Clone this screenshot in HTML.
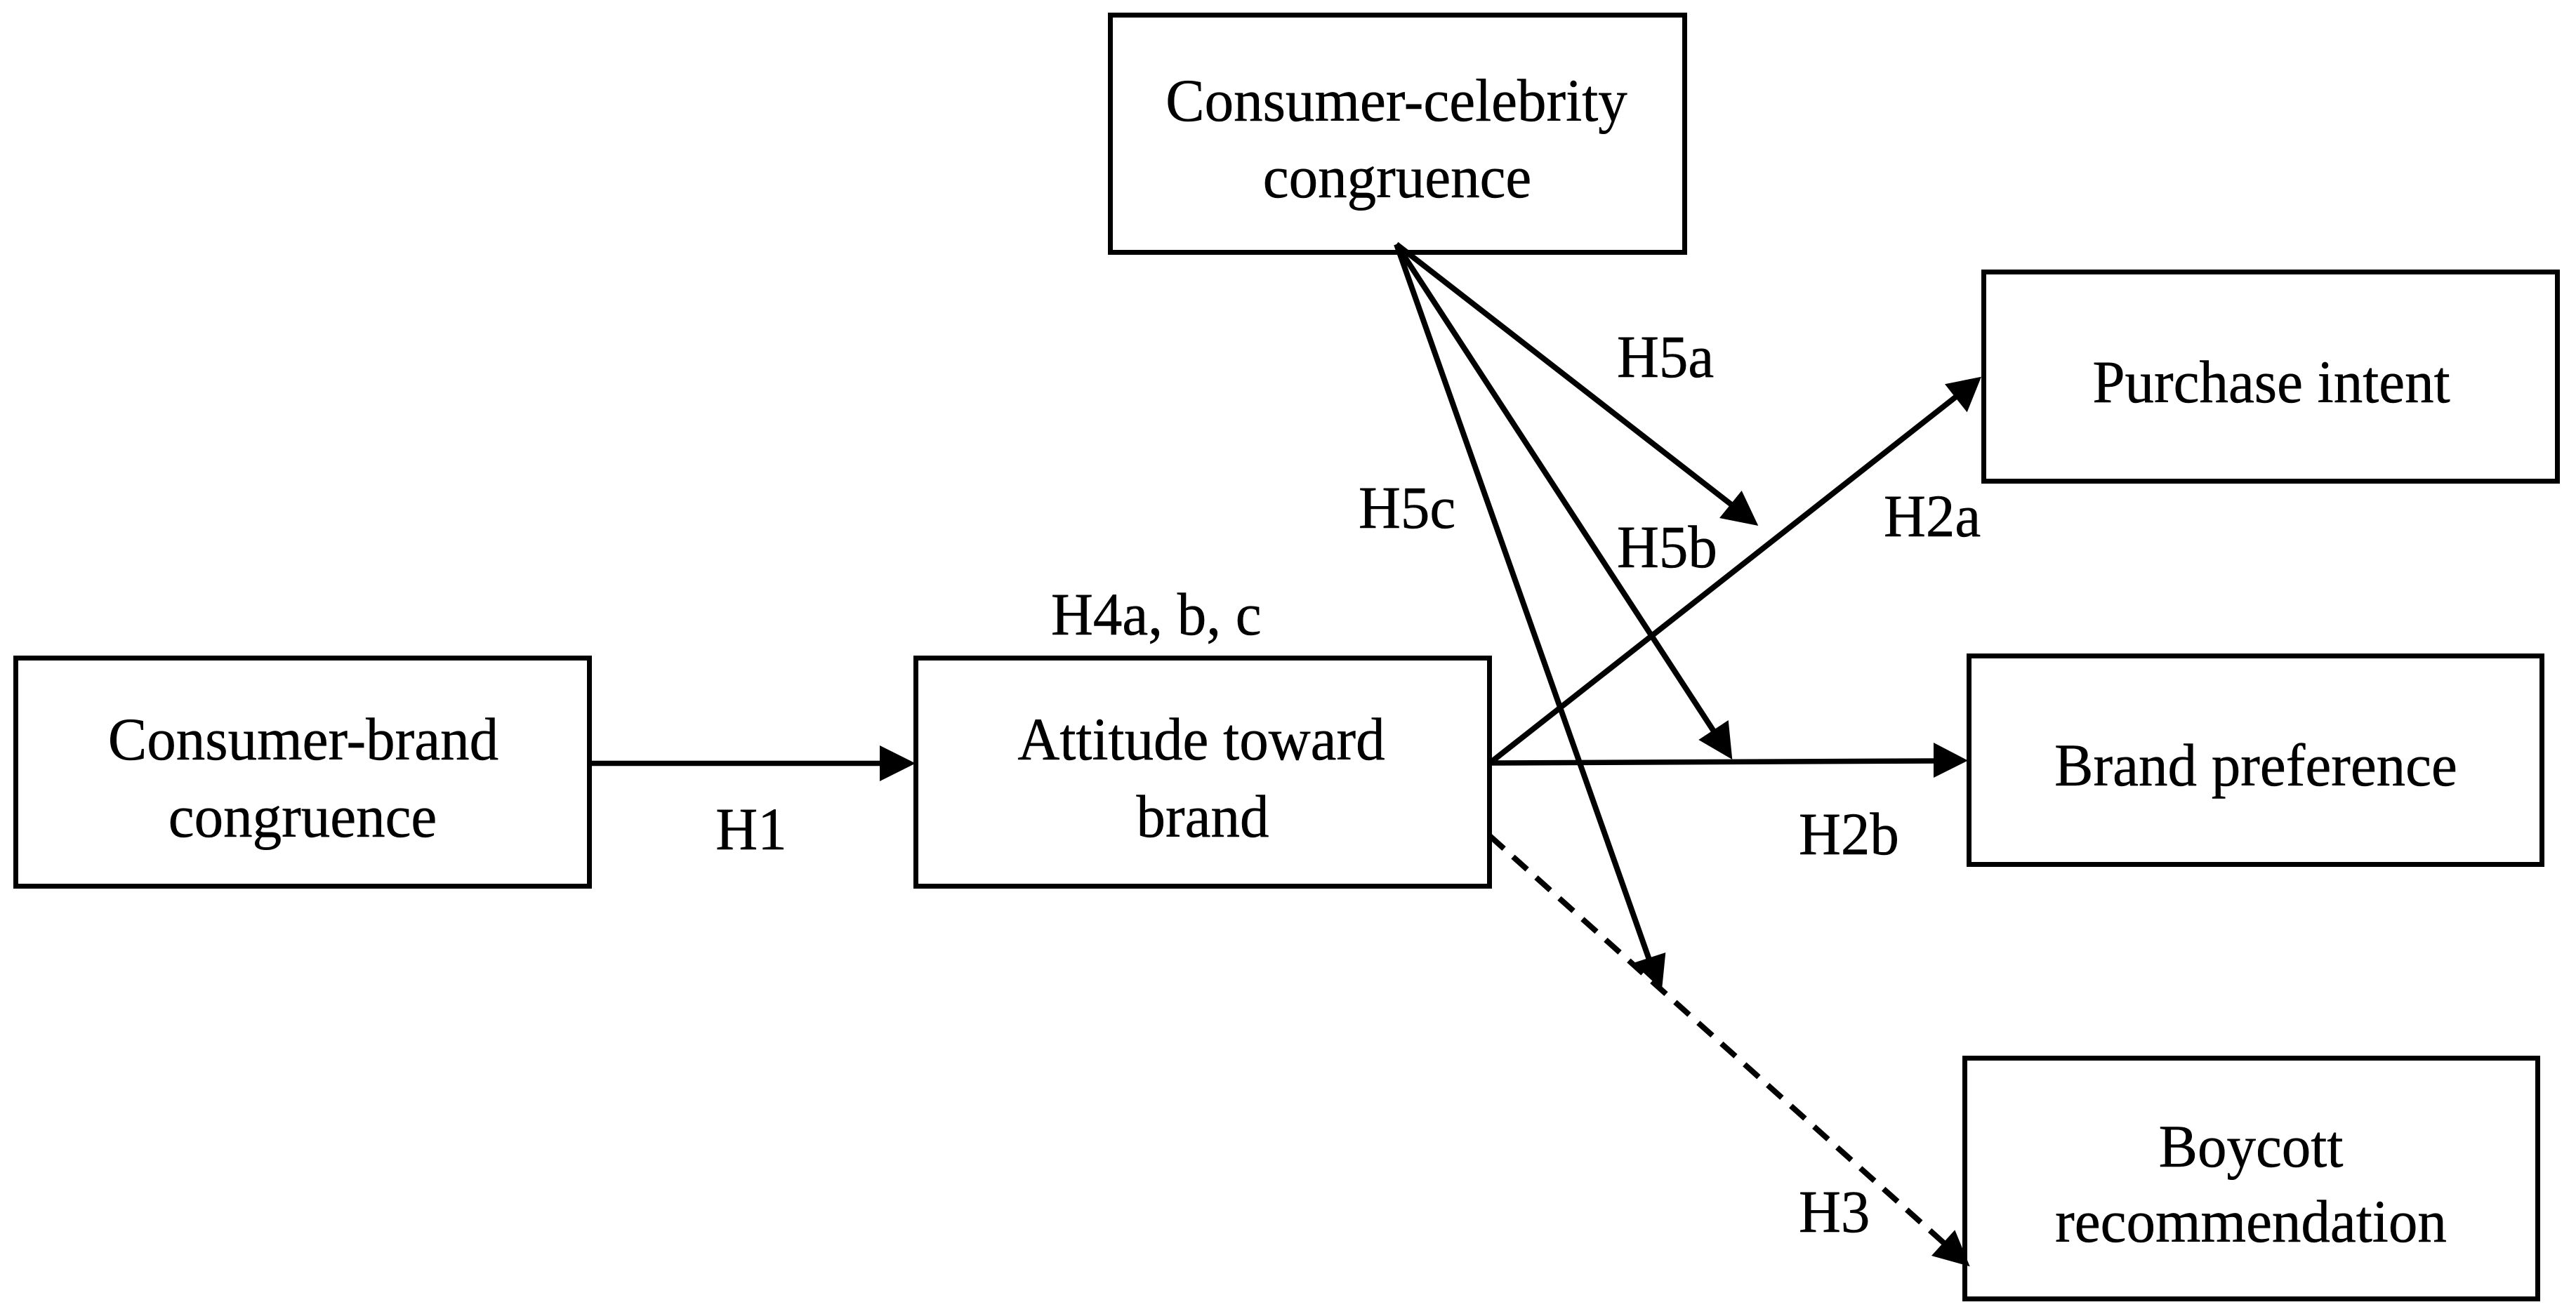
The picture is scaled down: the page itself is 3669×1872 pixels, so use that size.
<!DOCTYPE html>
<html><head><meta charset="utf-8"><style>
html,body{margin:0;padding:0;background:#fff;width:3669px;height:1872px;overflow:hidden}
svg{display:block}
text{font-family:"Liberation Serif",serif;font-size:83px;fill:#000;stroke:#000;stroke-width:.5}
.m{text-anchor:middle}
</style></head><body>
<svg width="3669" height="1872" viewBox="0 0 3669 1872" xmlns="http://www.w3.org/2000/svg">
<rect width="3669" height="1872" fill="#fff"/>
<g fill="#000" fill-rule="evenodd">
<path d="M19 934H843V1266H19ZM26 941V1259H836V941Z"/>
<path d="M1301 934H2125V1266H1301ZM1308 941V1259H2118V941Z"/>
<path d="M1578 18H2403V363H1578ZM1585 25V356H2396V25Z"/>
<path d="M2822 384H3646V689H2822ZM2829 391V682H3639V391Z"/>
<path d="M2801 931H3624V1235H2801ZM2808 938V1228H3617V938Z"/>
<path d="M2795 1504H3618V1854H2795ZM2802 1511V1847H3611V1511Z"/>
</g>
<g stroke="#000" fill="none">
<line x1="842" y1="1087.5" x2="1260" y2="1087.5" stroke-width="7.5"/>
<line x1="1989" y1="348" x2="2470" y2="722" stroke-width="8"/>
<line x1="1989" y1="348" x2="2445" y2="1048" stroke-width="8"/>
<line x1="1989" y1="348" x2="2350" y2="1370" stroke-width="8"/>
<line x1="2122" y1="1087" x2="2790" y2="562" stroke-width="8"/>
<line x1="2122" y1="1087" x2="2760" y2="1084" stroke-width="7.5"/>
<line x1="2122" y1="1191" x2="2780" y2="1781" stroke-width="8" stroke-dasharray="27 17.3"/>
</g>
<g fill="#000">
<polygon points="1253,1062 1304,1087.5 1253,1113"/>
<polygon points="2504.3,749 2480.7,699 2449,738"/>
<polygon points="2467.3,1082 2461.7,1026 2419.3,1054"/>
<polygon points="2367,1410 2372.3,1357 2326,1372"/>
<polygon points="2822,536.7 2770,547.3 2801.7,587.3"/>
<polygon points="2803,1083.5 2754,1058 2754,1108"/>
<polygon points="2805.7,1804.3 2784.3,1752.3 2751,1789"/>
</g>
<g>
<text class="m" transform="translate(432,1082) scale(1,1.03)">Consumer-brand</text>
<text class="m" transform="translate(431,1192) scale(1,1.03)">congruence</text>
<text class="m" transform="translate(1070,1210) scale(1,1.03)">H1</text>
<text class="m" transform="translate(1711,1082) scale(1,1.03)">Attitude toward</text>
<text class="m" transform="translate(1713,1192) scale(1,1.03)">brand</text>
<text transform="translate(1497,904) scale(1,1.03)">H4a, b, c</text>
<text class="m" transform="translate(1989,172) scale(1,1.03)">Consumer-celebrity</text>
<text class="m" transform="translate(1990,281) scale(1,1.03)">congruence</text>
<text transform="translate(2303,537) scale(1,1.03)">H5a</text>
<text transform="translate(2303,808) scale(1,1.03)">H5b</text>
<text transform="translate(1935,752) scale(1,1.03)">H5c</text>
<text transform="translate(2683,764) scale(1,1.03)">H2a</text>
<text transform="translate(2562,1217) scale(1,1.03)">H2b</text>
<text transform="translate(2562,1755) scale(1,1.03)">H3</text>
<text class="m" transform="translate(3235,573) scale(1,1.03)">Purchase intent</text>
<text class="m" transform="translate(3213,1119) scale(1,1.03)">Brand preference</text>
<text class="m" transform="translate(3206,1662) scale(1,1.03)">Boycott</text>
<text class="m" transform="translate(3206,1769) scale(1,1.03)">recommendation</text>
</g>
</svg>
</body></html>
